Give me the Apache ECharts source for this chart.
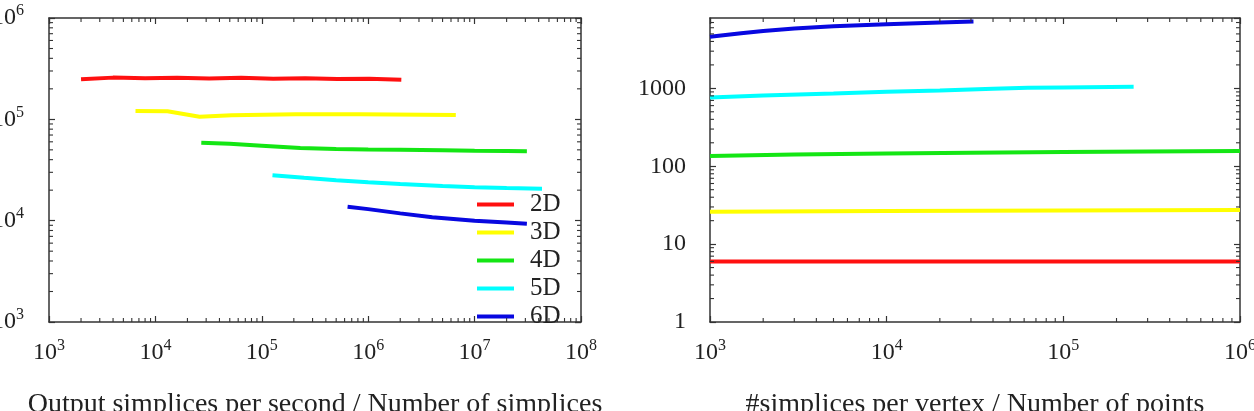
<!DOCTYPE html>
<html>
<head>
<meta charset="utf-8">
<title>simplices</title>
<script src="https://cdn.jsdelivr.net/npm/echarts@6/dist/echarts.min.js"></script>
<style>
  html, body { margin: 0; padding: 0; background: #fff; }
  #chart { width: 1254px; height: 411px; }
</style>
</head>
<body>
<div id="chart"></div>
<script>
// legend names
const dims = ['2D', '3D', '4D', '5D', '6D']
const colors = ['#ff1010', '#ffff00', '#14e614', '#00ffff', '#0808e0']

// left plot: output simplices per second vs number of simplices
const rateX2D = [2000, 4000, 8000, 16000, 32000, 64000, 128000, 256000, 512000, 1024000, 2048000]
const rateY2D = [248000, 258000, 254000, 257000, 253000, 257000, 252000, 255000, 250000, 252000, 246000]
const rateX3D = [6500, 13000, 26000, 52000, 104000, 208000, 416000, 832000, 1660000, 3330000, 6660000]
const rateY3D = [121000, 120000, 106000, 110000, 111000, 112000, 112000, 112000, 111500, 111000, 110500]
const rateX4D = [27000, 50000, 100000, 230000, 500000, 1000000, 2000000, 5000000, 10000000, 20000000, 31000000]
const rateY4D = [58700, 57500, 55000, 52000, 51000, 50500, 50200, 49500, 49000, 48800, 48500]
const rateX5D = [126000, 250000, 500000, 1000000, 2000000, 5000000, 10000000, 20000000, 43000000]
const rateY5D = [28100, 26500, 25000, 23900, 23000, 22000, 21400, 21000, 20700]
const rateX6D = [640000, 1000000, 2000000, 4000000, 10000000, 20000000, 31000000]
const rateY6D = [13700, 13000, 11800, 10800, 10000, 9600, 9330]

// right plot: simplices per vertex vs number of points
const pvX2D = [1000, 10000, 100000, 1000000]
const pvY2D = [6, 6, 6, 6]
const pvX3D = [1000, 10000, 100000, 1000000]
const pvY3D = [26, 26.6, 27, 27.5]
const pvX4D = [1000, 3000, 10000, 30000, 100000, 300000, 1000000]
const pvY4D = [135, 141, 146, 149, 152, 155, 157]
const pvX5D = [1000, 2000, 5000, 10000, 20000, 40000, 63000, 100000, 250000]
const pvY5D = [763, 810, 860, 902, 940, 985, 1015, 1025, 1046]
const pvX6D = [1000, 1500, 2000, 3000, 5000, 10000, 20000, 31000]
const pvY6D = [4600, 5100, 5450, 5850, 6250, 6650, 7000, 7200]

const rateX = [rateX2D, rateX3D, rateX4D, rateX5D, rateX6D]
const rateY = [rateY2D, rateY3D, rateY4D, rateY5D, rateY6D]
const pvX = [pvX2D, pvX3D, pvX4D, pvX5D, pvX6D]
const pvY = [pvY2D, pvY3D, pvY4D, pvY5D, pvY6D]

const FONT = 'Liberation Serif'
const INK = '#333'
const TEXT = '#222'

const zip = (xs, ys) => xs.map((x, i) => [x, ys[i]])

// 2..9 x 10^e minor ticks of a log axis
const logMinor = (fromExp, toExp, max) => {
  const out = []
  for (let e = fromExp; e < toExp; e++) {
    for (let m = 2; m <= 9; m++) {
      const v = m * Math.pow(10, e)
      if (v < max) out.push(v)
    }
  }
  return out
}

const powLabel = v => '{b|10}{s|' + Math.round(Math.log10(v)) + '}'
const richPow = {
  b: { fontFamily: FONT, fontSize: 24, color: TEXT, lineHeight: 30 },
  s: { fontFamily: FONT, fontSize: 16, color: TEXT, lineHeight: 16, verticalAlign: 'top' }
}

const frameLine = { show: true, lineStyle: { color: INK, width: 1.5 } }
const majorTick = { show: true, inside: true, length: 6, lineStyle: { color: INK, width: 1.2 } }

const logAxis = (gridIndex, position, min, max, label) => ({
  gridIndex, position, type: 'log', logBase: 10, min, max,
  axisLine: frameLine,
  axisTick: majorTick,
  splitLine: { show: false },
  axisLabel: label || { show: false }
})

// minor ticks drawn on both opposite sides of the frame
const minorTicks = (axisIndex, dir, values, other) => ({
  type: 'custom',
  xAxisIndex: axisIndex,
  yAxisIndex: axisIndex,
  silent: true,
  z: 4,
  data: values.map(v => dir === 'x' ? [v, other] : [other, v]),
  renderItem: (params, api) => {
    const cs = params.coordSys
    const p = api.coord([api.value(0), api.value(1)])
    const style = { stroke: INK, lineWidth: 1.1 }
    const len = 4
    if (dir === 'x') {
      const b = cs.y + cs.height
      return { type: 'group', children: [
        { type: 'line', shape: { x1: p[0], y1: b, x2: p[0], y2: b - len }, style },
        { type: 'line', shape: { x1: p[0], y1: cs.y, x2: p[0], y2: cs.y + len }, style }
      ] }
    }
    const r = cs.x + cs.width
    return { type: 'group', children: [
      { type: 'line', shape: { x1: cs.x, y1: p[1], x2: cs.x + len, y2: p[1] }, style },
      { type: 'line', shape: { x1: r, y1: p[1], x2: r - len, y2: p[1] }, style }
    ] }
  }
})

const lineSeries = (axisIndex, xs, ys) => dims.map((d, i) => ({
  name: d,
  type: 'line',
  xAxisIndex: axisIndex,
  yAxisIndex: axisIndex,
  data: zip(xs[i], ys[i]),
  showSymbol: false,
  symbol: 'none',
  color: colors[i],
  lineStyle: { color: colors[i], width: 4 },
  z: 3
}))

const nameStyle = { fontFamily: FONT, fontSize: 28, color: TEXT }

const chart = echarts.init(document.getElementById('chart'))

chart.setOption({
  animation: false,
  backgroundColor: '#fff',
  grid: [
    { left: 49, top: 18, width: 532, height: 304, containLabel: false, outerBoundsMode: 'none' },
    { left: 710, top: 18, width: 530, height: 304, containLabel: false, outerBoundsMode: 'none' }
  ],
  legend: {
    data: dims,
    orient: 'vertical',
    left: 477,
    top: 192,
    padding: 0,
    icon: 'rect',
    itemWidth: 37,
    itemHeight: 4,
    itemGap: 3,
    formatter: n => '{t|' + n + '}',
    textStyle: {
      rich: { t: { fontFamily: FONT, fontSize: 25, color: TEXT, lineHeight: 23, padding: [0, 0, 0, 11] } }
    }
  },
  xAxis: [
    Object.assign(logAxis(0, 'bottom', 1e3, 1e8, { margin: 16, formatter: powLabel, rich: richPow }), {
      name: 'Output simplices per second / Number of simplices',
      nameLocation: 'middle', nameGap: 69, nameTextStyle: nameStyle
    }),
    logAxis(0, 'top', 1e3, 1e8),
    Object.assign(logAxis(1, 'bottom', 1e3, 1e6, { margin: 16, formatter: powLabel, rich: richPow }), {
      name: '#simplices per vertex / Number of points',
      nameLocation: 'middle', nameGap: 69, nameTextStyle: nameStyle
    }),
    logAxis(1, 'top', 1e3, 1e6)
  ],
  yAxis: [
    logAxis(0, 'left', 1e3, 1e6, { margin: 25, formatter: powLabel, rich: richPow }),
    logAxis(0, 'right', 1e3, 1e6),
    logAxis(1, 'left', 1, 8000, {
      margin: 24, showMaxLabel: false,
      formatter: v => String(Math.round(v)),
      fontFamily: FONT, fontSize: 24, color: TEXT
    }),
    logAxis(1, 'right', 1, 8000)
  ],
  series: [
    ...lineSeries(0, rateX, rateY),
    ...lineSeries(2, pvX, pvY),
    minorTicks(0, 'x', logMinor(3, 8, 1e8), 1e3),
    minorTicks(0, 'y', logMinor(3, 6, 1e6), 1e3),
    minorTicks(2, 'x', logMinor(3, 6, 1e6), 1),
    minorTicks(2, 'y', logMinor(0, 4, 8000), 1e3)
  ]
})
</script>
</body>
</html>
